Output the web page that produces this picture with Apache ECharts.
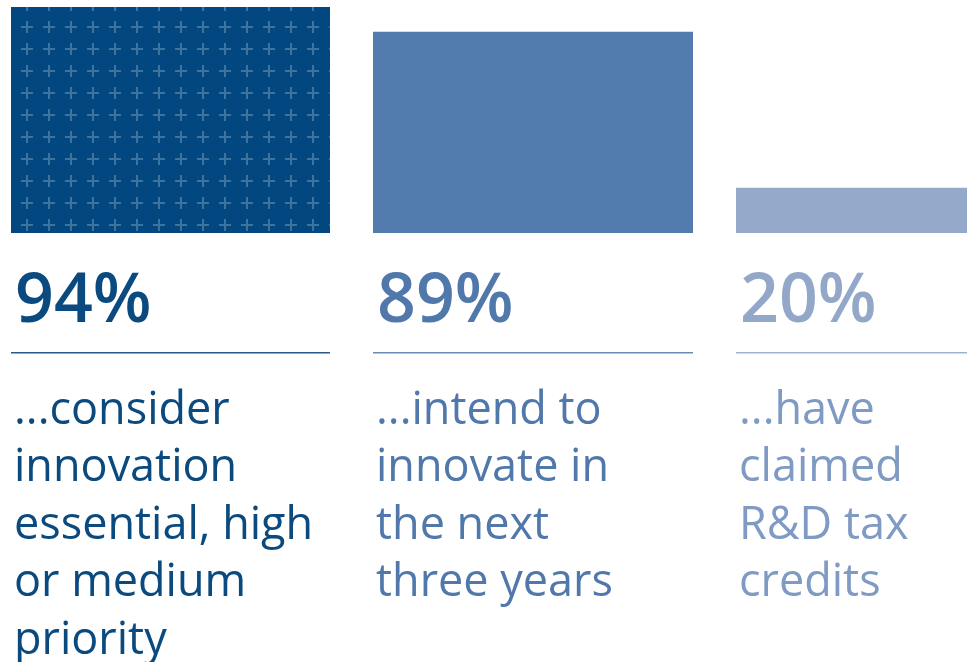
<!DOCTYPE html>
<html>
<head>
<meta charset="utf-8">
<script src="https://cdn.jsdelivr.net/npm/echarts@6/dist/echarts.min.js"></script>
<style>
html,body{margin:0;padding:0;background:#fff;}
#chart{width:974px;height:662px;}
</style>
</head>
<body>
<div id="chart"></div>
<script>
// ---- data ----
var categories = ['innovation priority', 'intend to innovate', 'R&D tax credits'];
var percentValues = [94, 89, 20];
// bar heights (first panel drawn full height)
var barHeights = [100, 89, 20];
var percentLabels = ['94%', '89%', '20%'];
var descriptions = [
  '...consider\ninnovation\nessential, high\nor medium\npriority',
  '...intend to\ninnovate in\nthe next\nthree years',
  '...have\nclaimed\nR&D tax\ncredits'
];

// ---- styles ----
var barColors = ['#02477f', '#527cad', '#95a9ca'];
var pctColors = ['#0b4a7f', '#5078aa', '#93a7c9'];
var descColors = ['#0b4a7f', '#5078aa', '#7f9ac3'];
var lineColors = ['#2a5888', '#6a8bb6', '#9fb1d1'];
var cols = [
  {left: 11, width: 319},
  {left: 373, width: 320},
  {left: 736, width: 231}
];
var FONT = '"Open Sans", "Noto Sans", sans-serif';

// cross pattern tile for first bar
var tile = document.createElement('canvas');
tile.width = 22; tile.height = 22;
var tc = tile.getContext('2d');
tc.fillStyle = barColors[0];
tc.fillRect(0, 0, 22, 22);
tc.fillStyle = 'rgba(255,255,255,0.24)';
[[5,5],[27,5],[5,27],[27,27],[-17,5],[5,-17],[-17,-17],[27,-17],[-17,27]].forEach(function (c) {
  tc.fillRect(c[0] - 6, c[1] - 1, 12, 2);
  tc.fillRect(c[0] - 1, c[1] - 6, 2, 5);
  tc.fillRect(c[0] - 1, c[1] + 1, 2, 5);
});

var grids = [], xAxes = [], yAxes = [], series = [], graphics = [];
cols.forEach(function (c, i) {
  grids.push({left: c.left, width: c.width, top: 7, height: 226, containLabel: false});
  xAxes.push({type: 'category', gridIndex: i, data: [categories[i]], show: false});
  yAxes.push({type: 'value', gridIndex: i, min: 0, max: 100, show: false});
  series.push({
    type: 'bar', xAxisIndex: i, yAxisIndex: i,
    data: [barHeights[i]],
    barWidth: '100%',
    silent: true,
    itemStyle: {
      color: i === 0 ? {image: tile, repeat: 'repeat'} : barColors[i]
    }
  });
  graphics.push({
    type: 'text', left: c.left + 4, top: 269,
    style: {text: percentLabels[i], fill: pctColors[i], font: '600 68px ' + FONT}
  });
  graphics.push({
    type: 'rect', left: c.left, top: 352,
    shape: {width: c.width, height: 1.5},
    style: {fill: lineColors[i]}
  });
  graphics.push({
    type: 'text', left: c.left + 3, top: 382,
    style: {text: descriptions[i], fill: descColors[i], font: '400 45px ' + FONT, lineHeight: 57.5}
  });
});

var chart = echarts.init(document.getElementById('chart'), null, {renderer: 'canvas'});
chart.setOption({
  animation: false,
  grid: grids,
  xAxis: xAxes,
  yAxis: yAxes,
  series: series,
  graphic: graphics
});
</script>
</body>
</html>
